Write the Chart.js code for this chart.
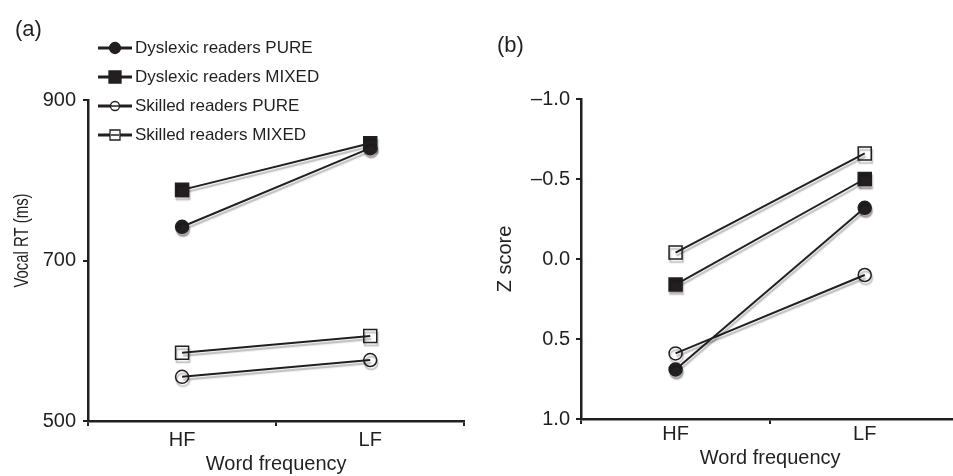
<!DOCTYPE html>
<html>
<head>
<meta charset="utf-8">
<script src="https://cdn.jsdelivr.net/npm/chart.js@4"></script>
<style>
  html, body { margin: 0; padding: 0; background: #fff; }
  body { width: 953px; height: 476px; overflow: hidden; position: relative;
         font-family: "Liberation Sans", Arial, sans-serif; color: #231f20; }
  #chartA { position: absolute; left: 0; top: 0; }
  #chartB { position: absolute; left: 470px; top: 0; }
  .panel { position: absolute; font-size: 22px; line-height: 22px; }
  #legend { position: absolute; left: 98px; top: 33px; }
  .item { height: 29.2px; display: flex; align-items: center; font-size: 17px; }
  .item canvas { margin-right: 3px; }
</style>
</head>
<body>
<canvas id="chartA" width="475" height="476"></canvas>
<canvas id="chartB" width="500" height="476"></canvas>
<div class="panel" style="left:15px; top:18px;">(a)</div>
<div class="panel" style="left:497px; top:34px;">(b)</div>
<div id="legend"></div>
<script>
const ink = '#231f20';

const categories = ['HF', 'LF'];
const seriesNames = ['Dyslexic readers PURE', 'Dyslexic readers MIXED', 'Skilled readers PURE', 'Skilled readers MIXED'];

// (a) vocal RT in ms
const rtDyslexicPure = [742, 840];
const rtDyslexicMixed = [788, 846];
const rtSkilledPure = [555, 576];
const rtSkilledMixed = [585, 606];

// (b) z scores
const zDyslexicPure = [0.69, -0.32];
const zDyslexicMixed = [0.16, -0.50];
const zSkilledPure = [0.59, 0.10];
const zSkilledMixed = [-0.04, -0.66];

const rtTicks = [500, 700, 900];
const zTicks = [-1.0, -0.5, 0.0, 0.5, 1.0];

// marker style per series
const markers = [
    { style: 'circle', radius: 6.5, fill: ink },
    { style: 'rect', radius: 9.2, fill: ink },
    { style: 'circle', radius: 6.5, fill: 'rgba(255,255,255,0)' },
    { style: 'rect', radius: 9.2, fill: 'rgba(255,255,255,0)' }
];

function makeDatasets(list) {
    return list.map((values, i) => ({
        label: seriesNames[i],
        data: values,
        borderColor: ink,
        borderWidth: 2,
        pointStyle: markers[i].style,
        pointRadius: markers[i].radius,
        pointHoverRadius: markers[i].radius,
        pointBackgroundColor: markers[i].fill,
        pointBorderColor: ink,
        pointBorderWidth: 1.5,
        fill: false,
        tension: 0
    }));
}

// grey drop shadow under lines and markers
const shadowPlugin = {
    id: 'shadow',
    beforeDatasetsDraw(chart) {
        const ctx = chart.ctx;
        ctx.save();
        ctx.shadowColor = 'rgba(0,0,0,0.3)';
        ctx.shadowOffsetX = 1;
        ctx.shadowOffsetY = 3;
        ctx.shadowBlur = 1.5;
    },
    afterDatasetsDraw(chart) {
        chart.ctx.restore();
    }
};

// the left y title in the figure is set in a narrow face: squeeze it along its length
const narrowTitle = {
    id: 'narrowTitle',
    afterDraw(chart) {
        const ctx = chart.ctx;
        const area = chart.chartArea;
        ctx.save();
        ctx.translate(22, (area.top + area.bottom) / 2 - 20);
        ctx.rotate(-Math.PI / 2);
        ctx.scale(0.71, 1);
        ctx.font = '21px "Liberation Sans", Arial, sans-serif';
        ctx.fillStyle = ink;
        ctx.textAlign = 'center';
        ctx.textBaseline = 'middle';
        ctx.fillText('Vocal RT (ms)', 0, 0);
        ctx.restore();
    }
};

function axisOptions(cfg) {
    return {
        x: {
            type: 'category',
            offset: true,
            grid: { offset: true, drawOnChartArea: false, drawTicks: true, tickLength: 5, color: ink, lineWidth: 2 },
            border: { display: true, color: ink, width: 2.5 },
            ticks: { color: ink, font: { size: 20 }, padding: cfg.xPad },
            title: { display: true, text: 'Word frequency', color: ink, font: { size: 20 }, padding: { top: 0, bottom: cfg.xTitlePad } },
            afterFit(scale) { scale.height = cfg.xHeight; }
        },
        y: {
            min: cfg.min,
            max: cfg.max,
            reverse: cfg.reverse,
            afterBuildTicks(scale) { scale.ticks = cfg.ticks.map(v => ({ value: v })); },
            grid: { drawOnChartArea: false, drawTicks: true, tickLength: 5, color: ink, lineWidth: 2 },
            border: { display: true, color: ink, width: 2.5 },
            ticks: { color: ink, font: { size: 20 }, padding: cfg.yPad, callback: cfg.fmt },
            title: { display: cfg.yTitle !== '', text: cfg.yTitle, color: ink, font: { size: 20 }, padding: { top: 0, bottom: 0 } },
            afterFit(scale) { scale.width = cfg.yWidth; }
        }
    };
}

Chart.defaults.font.family = '"Liberation Sans", Arial, sans-serif';

new Chart(document.getElementById('chartA'), {
    type: 'line',
    data: {
        labels: categories,
        datasets: makeDatasets([rtDyslexicPure, rtDyslexicMixed, rtSkilledPure, rtSkilledMixed])
    },
    options: {
        responsive: false,
        animation: false,
        layout: { padding: { left: 10, right: 7, top: 100, bottom: 0 } },
        plugins: { legend: { display: false }, tooltip: { enabled: false } },
        scales: axisOptions({
            min: 500, max: 900, reverse: false, ticks: rtTicks,
            fmt: v => String(v),
            yTitle: '',
            yWidth: 78, yPad: 7, xPad: 2, xHeight: 55, xTitlePad: 0
        })
    },
    plugins: [shadowPlugin, narrowTitle]
});

new Chart(document.getElementById('chartB'), {
    type: 'line',
    data: {
        labels: categories,
        datasets: makeDatasets([zDyslexicPure, zDyslexicMixed, zSkilledPure, zSkilledMixed])
    },
    options: {
        responsive: false,
        animation: false,
        layout: { padding: { left: 23, right: 9, top: 99, bottom: 0 } },
        plugins: { legend: { display: false }, tooltip: { enabled: false } },
        scales: axisOptions({
            min: -1, max: 1, reverse: true, ticks: zTicks,
            fmt: v => (v < 0 ? '\u2013' : '') + Math.abs(v).toFixed(1),
            yTitle: 'Z score',
            yWidth: 88, yPad: 6, xPad: -2, xHeight: 57, xTitlePad: 6
        })
    },
    plugins: [shadowPlugin]
});

// legend for panel (a): line with marker in the middle
const legend = document.getElementById('legend');
seriesNames.forEach((name, i) => {
    const row = document.createElement('div');
    row.className = 'item';
    const c = document.createElement('canvas');
    c.width = 34; c.height = 16;
    const g = c.getContext('2d');
    g.strokeStyle = ink;
    g.lineWidth = 3;
    g.beginPath(); g.moveTo(0, 8); g.lineTo(34, 8); g.stroke();
    g.fillStyle = i < 2 ? ink : '#fff';
    g.lineWidth = 1.3;
    g.beginPath();
    if (markers[i].style === 'circle') {
        g.arc(17, 8, i < 2 ? 5.5 : 4.5, 0, Math.PI * 2);
    } else {
        const s = i < 2 ? 12 : 10;
        g.rect(17 - s / 2, 8 - s / 2, s, s);
    }
    g.fill();
    g.stroke();
    if (i >= 2) { g.lineWidth = 1.5; g.beginPath(); g.moveTo(13, 8); g.lineTo(21, 8); g.stroke(); }
    row.appendChild(c);
    const t = document.createElement('span');
    t.textContent = name;
    row.appendChild(t);
    legend.appendChild(row);
});
</script>
</body>
</html>
